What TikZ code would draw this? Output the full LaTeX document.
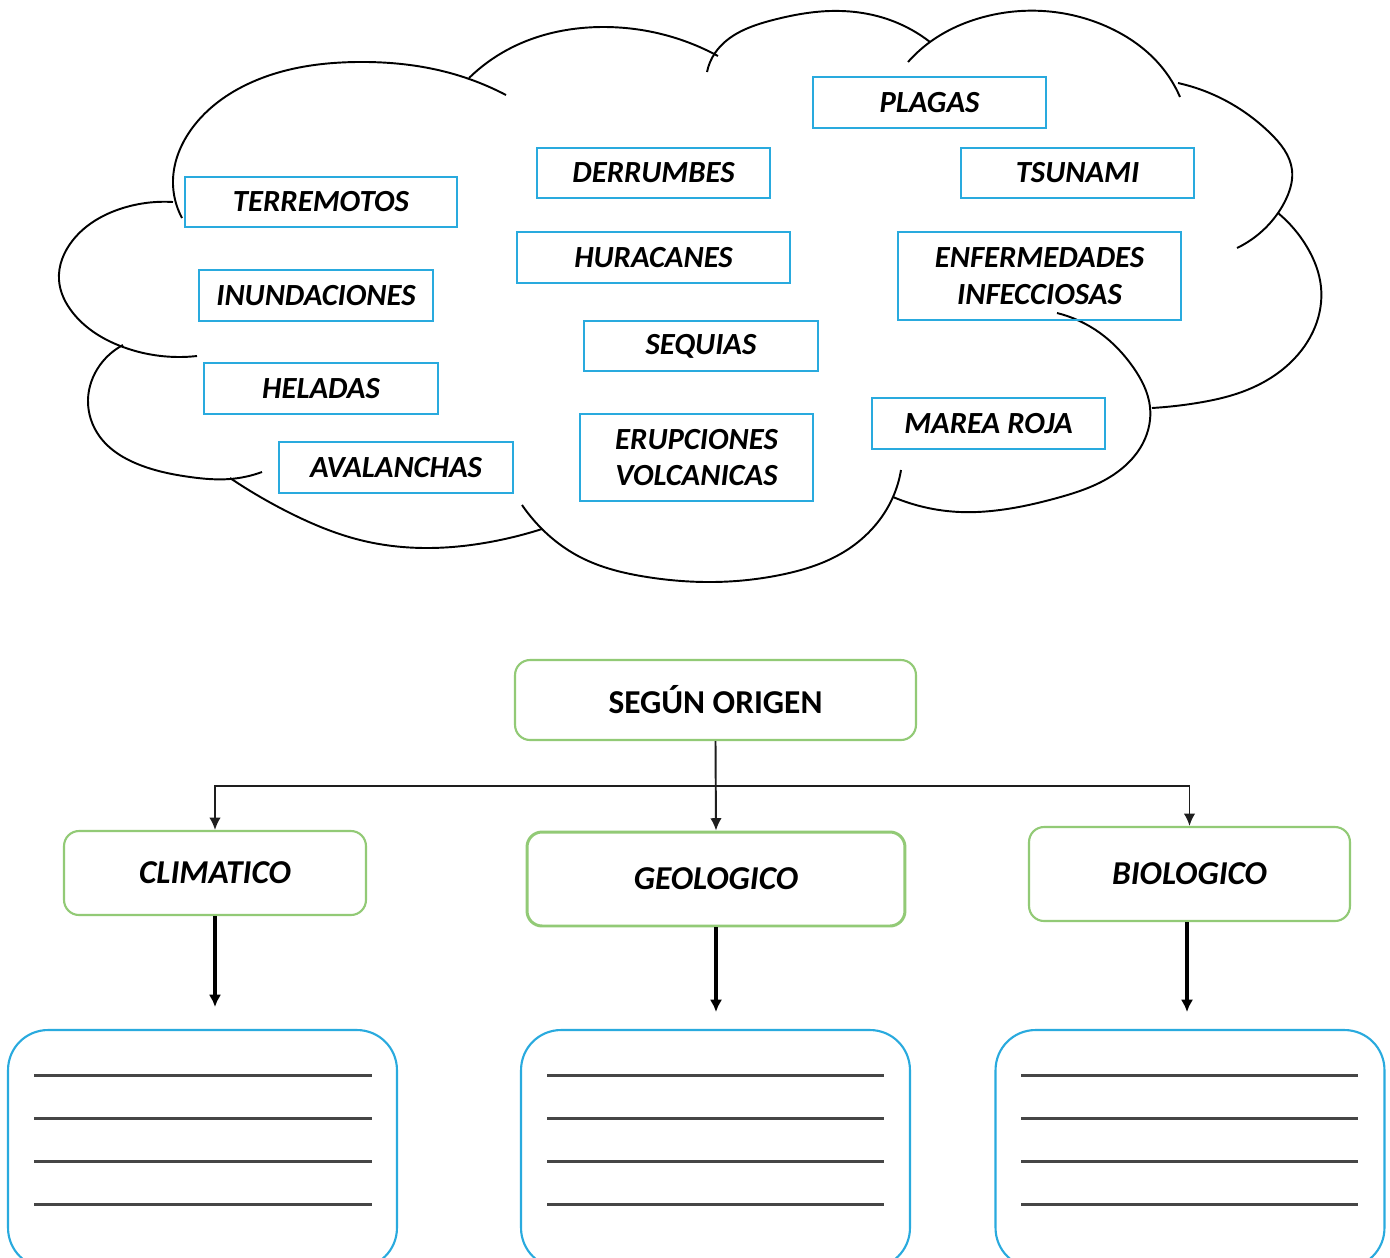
\documentclass[tikz,border=0pt]{standalone}
\usepackage{fontspec}
\setmainfont{Carlito}
\usetikzlibrary{arrows.meta,hobby}
\definecolor{boxblue}{RGB}{41,170,222}
\definecolor{boxgreen}{RGB}{146,202,118}
\definecolor{rulegray}{RGB}{70,70,70}
\definecolor{linkgray}{RGB}{30,30,30}
\begin{document}
\begin{tikzpicture}[x=0.02cm,y=-0.02cm,
  cloudline/.style={line width=1.1pt, black, use Hobby shortcut},
  word/.style={draw=boxblue, line width=1.6pt, inner sep=0pt, align=center,
    font=\fontsize{17.5}{21}\selectfont\bfseries\itshape},
  headbox/.style={draw=boxgreen, line width=1.2pt, rounded corners=0.3cm, fill=white, inner sep=0pt,
    font=\fontsize{19}{22}\selectfont\bfseries},
  catbox/.style={headbox, font=\fontsize{19}{22}\selectfont\bfseries\itshape},
  blankbox/.style={draw=boxblue, line width=1.2pt, rounded corners=0.8cm, inner sep=0pt,
    minimum width=7.78cm, minimum height=4.76cm},
  ruleline/.style={draw=rulegray, line width=1.7pt},
  thinarr/.style={draw=linkgray, line width=1.1pt, -{Latex[length=7pt,width=6.5pt]}},
  thickarr/.style={draw=black, line width=2.2pt, -{Latex[length=7pt,width=7pt]}}
]
\useasboundingbox (0,0) rectangle (1390,1258);
\fill[white] (0,0) rectangle (1390,1258);

% ---------- cloud ----------
\draw[cloudline] (182,218) .. (173,180) .. (193,127) .. (250,83) .. (357,62) .. (450,73) .. (506,95);
\draw[cloudline] (469,78) .. (507,50) .. (603,27) .. (657,33) .. (718,56);
\draw[cloudline] (707,72) .. (715,53) .. (773,20) .. (830,11) .. (890,20) .. (930,42);
\draw[cloudline] (908,62) .. (930,42) .. (980,18) .. (1043,11) .. (1110,28) .. (1160,65) .. (1180,97);
\draw[cloudline] (1178,83) .. (1230,103) .. (1270,133) .. (1292,170) .. (1287,197) .. (1278,213) .. (1237,248);
\draw[cloudline] (1278,213) .. (1307,247) .. (1321,287) .. (1315,327) .. (1290,363) .. (1247,390) .. (1197,403) .. (1152,408);
\draw[cloudline] (1057,313) .. (1100,333) .. (1133,367) .. (1150,407) .. (1143,443) .. (1110,477) .. (1057,498) .. (1000,510) .. (960,512) .. (893,497);
\draw[cloudline] (901,470) .. (893,497) .. (847,550) .. (780,575) .. (713,582) .. (647,577) .. (580,557) .. (540,527) .. (522,505);
\draw[cloudline] (230,478) .. (290,513) .. (360,540) .. (425,548) .. (490,542) .. (542,529);
\draw[cloudline] (123,345) .. (100,365) .. (88,400) .. (100,437) .. (140,465) .. (190,477) .. (230,479) .. (262,472);
\draw[cloudline] (173,202) .. (123,208) .. (73,240) .. (59,280) .. (73,313) .. (123,347) .. (197,356);

% ---------- words ----------
\node[word, minimum width=5.44cm, minimum height=1.00cm] (terremotos) at (321,202) {TERREMOTOS};
\node[word, minimum width=4.68cm, minimum height=1.02cm] (inundaciones) at (316,295.5) {INUNDACIONES};
\node[word, minimum width=4.68cm, minimum height=1.02cm] (heladas) at (321,388.5) {HELADAS};
\node[word, minimum width=4.68cm, minimum height=1.02cm] (avalanchas) at (396,467.5) {AVALANCHAS};
\node[word, minimum width=4.66cm, minimum height=1.00cm] (derrumbes) at (653.5,173) {DERRUMBES};
\node[word, minimum width=5.46cm, minimum height=1.02cm] (huracanes) at (653.5,257.5) {HURACANES};
\node[word, minimum width=4.68cm, minimum height=1.00cm] (sequias) at (701,346) {SEQUIAS};
\node[word, minimum width=4.66cm, minimum height=1.74cm] (erupciones) at (696.5,457.5) {ERUPCIONES\\VOLCANICAS};
\node[word, minimum width=4.66cm, minimum height=1.02cm] (plagas) at (929.5,102.5) {PLAGAS};
\node[word, minimum width=4.66cm, minimum height=1.00cm] (tsunami) at (1077.5,173) {TSUNAMI};
\node[word, minimum width=5.66cm, minimum height=1.76cm] (enfermedades) at (1039.5,276) {ENFERMEDADES\\INFECCIOSAS};
\node[word, minimum width=4.66cm, minimum height=1.02cm] (marea) at (988.5,423.5) {MAREA ROJA};

% ---------- tree ----------
\node[headbox, minimum width=8.02cm, minimum height=1.60cm] (origen) at (715.5,700) {SEGÚN ORIGEN};
\node[catbox, minimum width=6.04cm, minimum height=1.68cm] (clim) at (215,873) {CLIMATICO};
\node[catbox, line width=1.7pt, minimum width=7.56cm, minimum height=1.88cm] (geo) at (716,879) {GEOLOGICO};
\node[catbox, minimum width=6.42cm, minimum height=1.88cm] (bio) at (1189.5,874) {BIOLOGICO};

\coordinate (bar) at (716,786);
\draw[thinarr] (origen.south) -- (geo.north);
\draw[thinarr] (bar) -| (clim.north);
\draw[thinarr] (bar) -| (bio.north);

\begin{scope}
\clip (0,0) rectangle (1390,1258);
\node[blankbox] (b1) at (202.5,1149) {};
\node[blankbox] (b2) at (715.5,1149) {};
\node[blankbox] (b3) at (1190,1149) {};
\end{scope}

\foreach \yy in {1075,1118,1161,1204}{
  \draw[ruleline] (34,\yy) -- (372,\yy);
  \draw[ruleline] (547,\yy) -- (884,\yy);
  \draw[ruleline] (1021,\yy) -- (1358,\yy);
}

\draw[thickarr, shorten >=0.44cm] (clim.south) -- (clim.south |- b1.north);
\draw[thickarr, shorten >=0.34cm] (geo.south) -- (geo.south |- b2.north);
\draw[thickarr, shorten >=0.34cm] ([xshift=-0.05cm]bio.south) -- ([xshift=-0.05cm]bio.south |- b3.north);
\end{tikzpicture}
\end{document}
